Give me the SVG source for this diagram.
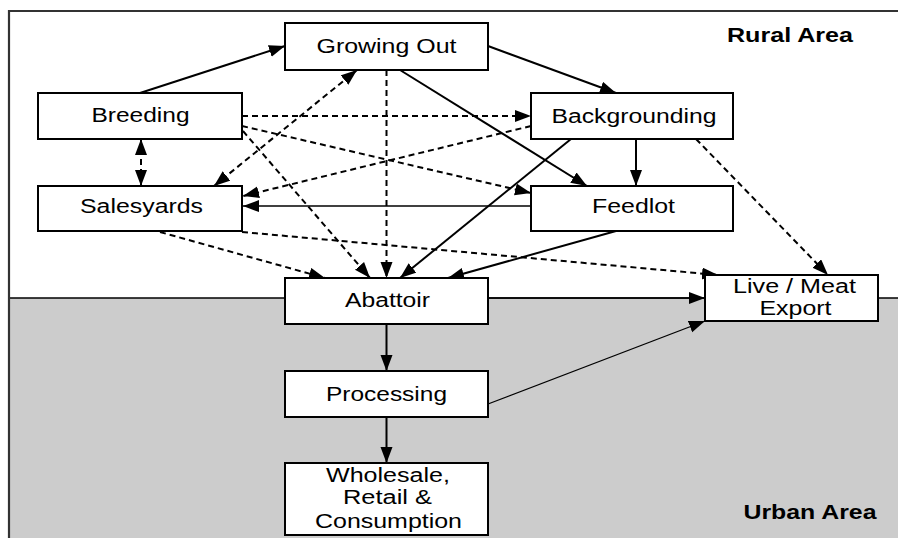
<svg xmlns="http://www.w3.org/2000/svg" width="898" height="538" viewBox="0 0 898 538">
<style>
.box{fill:#fff;stroke:#000;stroke-width:2}
.t{font-family:"Liberation Sans",Arial,sans-serif;font-size:19.5px;fill:#000;text-anchor:middle}
.b{font-family:"Liberation Sans",Arial,sans-serif;font-size:20px;font-weight:bold;fill:#000;text-anchor:middle}
.s{fill:none;stroke:#000;stroke-width:2;marker-end:url(#ah)}
.th{fill:none;stroke:#000;stroke-width:1.3;marker-end:url(#ah)}
.d{fill:none;stroke:#000;stroke-width:2;stroke-dasharray:6 4;marker-end:url(#ah)}
.dd{fill:none;stroke:#000;stroke-width:2;stroke-dasharray:6 4;marker-end:url(#ah);marker-start:url(#ah)}
</style>
<defs>
<marker id="ah" markerUnits="userSpaceOnUse" markerWidth="17" markerHeight="13" refX="16" refY="6" orient="auto-start-reverse">
<path d="M0,0 L16,6 L0,12 z" fill="#000"/>
</marker>
</defs>
<g id="background">
<rect x="9" y="298" width="889" height="240" fill="#cccccc"/>
<line x1="9" y1="298" x2="898" y2="298" stroke="#000" stroke-width="1.3"/>
<path d="M9,538 V11 H898" fill="none" stroke="#333" stroke-width="2.2"/>
<text class="b" x="790" y="42" textLength="126" lengthAdjust="spacingAndGlyphs">Rural Area</text>
<text class="b" x="810" y="519" textLength="133" lengthAdjust="spacingAndGlyphs">Urban Area</text>
</g>
<g id="connectors">
<line class="s" x1="140" y1="93" x2="285" y2="46"/>
<line class="s" x1="488" y1="46" x2="616" y2="93"/>
<line class="s" x1="400" y1="70" x2="587" y2="186"/>
<line class="d" x1="386.5" y1="70" x2="386.5" y2="278"/>
<line class="dd" x1="214" y1="186" x2="357" y2="70"/>
<line class="dd" x1="141" y1="139" x2="141" y2="186"/>
<line class="d" x1="242" y1="116" x2="531" y2="116"/>
<line class="d" x1="242" y1="126" x2="531" y2="193"/>
<line class="d" x1="243" y1="131" x2="370" y2="278"/>
<line class="d" x1="531" y1="126" x2="243" y2="196"/>
<line class="th" x1="531" y1="206" x2="243" y2="206"/>
<line class="s" x1="636" y1="139" x2="636" y2="186"/>
<line class="s" x1="571" y1="139" x2="400" y2="278"/>
<line class="s" x1="616" y1="231" x2="448" y2="278"/>
<line class="d" x1="160" y1="232" x2="325" y2="278"/>
<line class="d" x1="242" y1="232" x2="718" y2="275"/>
<line class="d" x1="696" y1="139" x2="828" y2="275"/>
<line class="th" x1="488" y1="298" x2="705" y2="298"/>
<line class="th" x1="488" y1="404" x2="705" y2="321"/>
<line class="s" x1="386.5" y1="324" x2="386.5" y2="371"/>
<line class="s" x1="386.5" y1="417" x2="386.5" y2="463"/>
</g>
<g id="growing-out">
<rect class="box" x="285" y="23" width="203" height="47"/>
<text class="t" x="386.5" y="53" textLength="140" lengthAdjust="spacingAndGlyphs">Growing Out</text>
</g>
<g id="breeding">
<rect class="box" x="38" y="93" width="204" height="46"/>
<text class="t" x="140.5" y="122" textLength="98" lengthAdjust="spacingAndGlyphs">Breeding</text>
</g>
<g id="salesyards">
<rect class="box" x="38" y="186" width="204" height="45"/>
<text class="t" x="141.5" y="213" textLength="123" lengthAdjust="spacingAndGlyphs">Salesyards</text>
</g>
<g id="backgrounding">
<rect class="box" x="531" y="93" width="202" height="46"/>
<text class="t" x="634" y="122.5" textLength="165" lengthAdjust="spacingAndGlyphs">Backgrounding</text>
</g>
<g id="feedlot">
<rect class="box" x="531" y="186" width="202" height="45"/>
<text class="t" x="633.5" y="213" textLength="83" lengthAdjust="spacingAndGlyphs">Feedlot</text>
</g>
<g id="abattoir">
<rect class="box" x="285" y="278" width="203" height="46"/>
<text class="t" x="387.5" y="307" textLength="85" lengthAdjust="spacingAndGlyphs">Abattoir</text>
</g>
<g id="processing">
<rect class="box" x="285" y="371" width="203" height="46"/>
<text class="t" x="386.5" y="400.5" textLength="121" lengthAdjust="spacingAndGlyphs">Processing</text>
</g>
<g id="wholesale">
<rect class="box" x="285" y="463" width="203" height="72"/>
<text class="t" x="388" y="481.5" textLength="124" lengthAdjust="spacingAndGlyphs">Wholesale,</text>
<text class="t" x="387.5" y="504" textLength="89" lengthAdjust="spacingAndGlyphs">Retail &amp;</text>
<text class="t" x="388.5" y="527.5" textLength="147" lengthAdjust="spacingAndGlyphs">Consumption</text>
</g>
<g id="live-meat-export">
<rect class="box" x="705" y="275" width="173" height="46"/>
<text class="t" x="794.5" y="293" textLength="123" lengthAdjust="spacingAndGlyphs">Live / Meat</text>
<text class="t" x="795.5" y="315" textLength="72" lengthAdjust="spacingAndGlyphs">Export</text>
</g>
</svg>
